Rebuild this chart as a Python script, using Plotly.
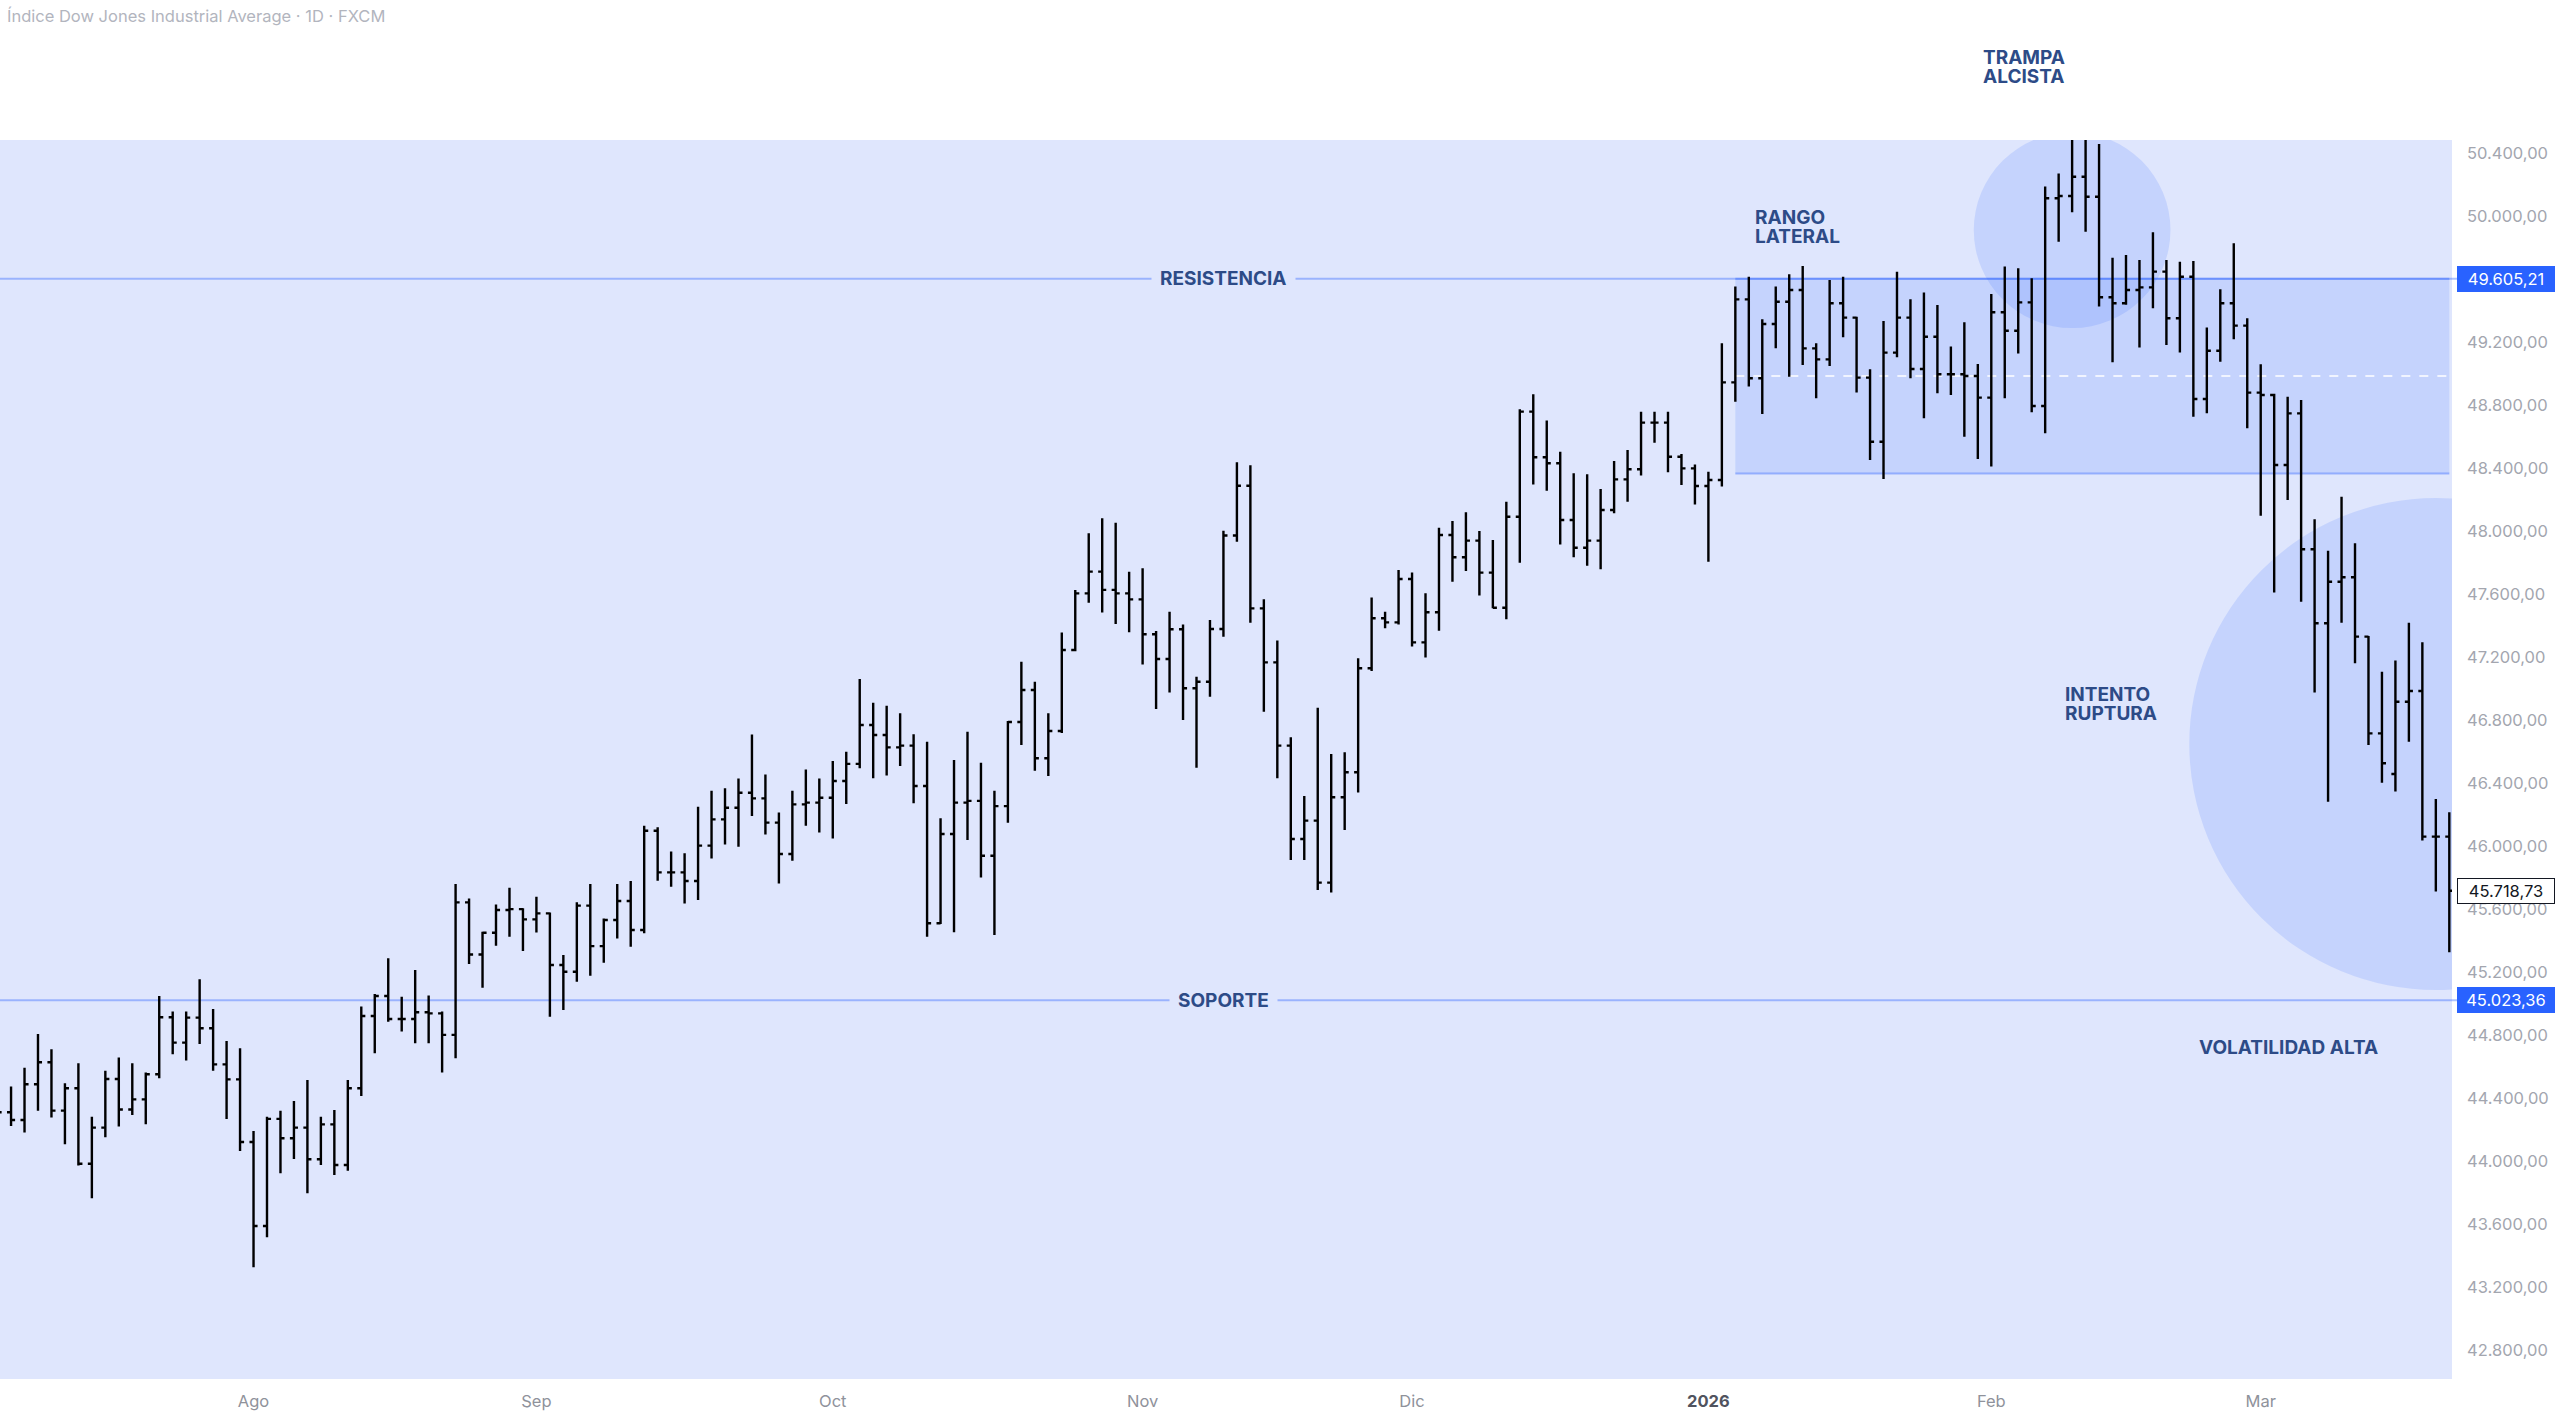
import pandas as pd
import plotly.graph_objects as go

# Dow Jones (FXCM) daily bars, 2025-07-07 .. 2026-03-20
holidays = ["2025-12-25", "2026-01-01"]
dates = [d.strftime("%Y-%m-%d") for d in pd.bdate_range("2025-07-07", "2026-03-20")
         if d.strftime("%Y-%m-%d") not in holidays]

open_ = [
    # jul
    44420, 44312, 44263, 44490, 44629, 44322, 44464, 43985, 44214, 44523,
    44329, 44394, 44553, 44915, 44754, 44913, 44845, 44616, 44521,
    # ago
    44123, 43590, 44270, 44147, 44214, 44013, 44235, 43977, 44464, 44923,
    45050, 44904, 44904, 44947, 44940, 44803, 45645, 45314, 45452, 45596, 45602,
    # sep
    45537, 45575, 45247, 45204, 45624, 45367, 45533, 45653, 45469, 46100,
    45835, 45835, 45780, 46005, 46172, 46246, 46341, 46305, 46151, 45952,
    46267, 46278,
    # oct
    46309, 46415, 46524, 46771, 46708, 46629, 46640, 46384, 45512, 46079,
    46278, 46289, 45941, 46256, 46790, 46993, 46560, 46733, 47247, 47607,
    47745, 47629, 47607,
    # nov
    47569, 47347, 47190, 47379, 47004, 47046, 47381, 47974, 48290, 47512,
    47169, 46640, 46047, 46164, 45770, 46312, 46471, 47131, 47449, 47423,
    # dic
    47698, 47296, 47487, 47978, 47836, 47942, 47739, 47516, 48094, 48761,
    48471, 48433, 48073, 47897, 47942, 48136, 48331, 48395, 48691, 48691,
    48475, 48401,
    # ene
    48289, 48327, 48947, 49474, 48973, 49318, 49459, 49533, 49163, 49093,
    49449, 49358, 48977, 48570, 49136, 49358, 49032, 49237, 48998, 48998,
    48987,
    # feb
    48850, 49392, 49275, 49455, 48797, 50116, 50130, 50253, 50126, 49487,
    49449, 49533, 49550, 49650, 49354, 49618, 48841, 49148, 49449, 49307,
    # mar
    48882, 48867, 48422, 48750, 47887, 47417, 47681, 47709, 47332, 46718,
    46460, 46919, 46987, 46062, 46062,
]
high = [
    44560, 44475, 44595, 44809, 44712, 44496, 44623, 44284, 44576, 44659,
    44623, 44564, 45050, 44951, 44951, 45156, 44968, 44765, 44718,
    44193, 44284, 44322, 44384, 44517, 44284, 44326, 44517, 44983, 45063,
    45290, 45046, 45215, 45053, 44951, 45761, 45670, 45458, 45632, 45738, 45607,
    45681, 45580, 45310, 45645, 45761, 45543, 45761, 45780, 46131, 46121,
    45967, 45956, 46252, 46354, 46369, 46432, 46711, 46457, 46216, 46354,
    46489, 46432,
    46542, 46602, 47063, 46913, 46894, 46845, 46712, 46665, 46179, 46549,
    46729, 46532, 46354, 46797, 47173, 47046, 46845, 47358, 47628, 47988,
    48084, 48056, 47745,
    47766, 47368, 47491, 47410, 47078, 47438, 48005, 48440, 48420, 47569,
    47307, 46693, 46320, 46881, 46587, 46598, 47195, 47580, 47491, 47755,
    47739, 47607, 48024, 48067, 48122, 48003, 47946, 48189, 48776, 48871,
    48704, 48507, 48369, 48363, 48270, 48448, 48518, 48761, 48761, 48761,
    48492, 48426,
    48380, 49195, 49555, 49618, 49347, 49555, 49633, 49686, 49195, 49597,
    49618, 49364, 49030, 49337, 49650, 49474, 49517, 49438, 49174, 49328,
    49064,
    49508, 49682, 49671, 49608, 50190, 50274, 50539, 50518, 50461, 49739,
    49756, 49724, 49900, 49724, 49713, 49718, 49296, 49538, 49830, 49354,
    49062, 48875, 48856, 48835, 48077, 47878, 48221, 47925, 47336, 47110,
    47180, 47421, 47296, 46301, 46217,
]
low = [
    44260, 44225, 44183, 44322, 44278, 44108, 43973, 43766, 44153, 44221,
    44295, 44235, 44528, 44680, 44640, 44746, 44576, 44269, 44066,
    43327, 43518, 43924, 44015, 43797, 43977, 43914, 43941, 44415, 44686,
    44887, 44824, 44750, 44750, 44564, 44655, 45253, 45103, 45370, 45427, 45336,
    45454, 44919, 44961, 45141, 45179, 45262, 45416, 45363, 45448, 45782,
    45744, 45638, 45660, 45924, 46013, 45998, 46193, 46076, 45765, 45909,
    46131, 46089,
    46051, 46270, 46496, 46433, 46450, 46511, 46274, 45427, 45508, 45455,
    46041, 45802, 45438, 46151, 46644, 46481, 46447, 46720, 47240, 47548,
    47485, 47413, 47360,
    47156, 46873, 46977, 46803, 46500, 46951, 47332, 47935, 47421, 46856,
    46433, 45914, 45914, 45723, 45707, 46104, 46342, 47114, 47385, 47410,
    47269, 47199, 47370, 47681, 47749, 47593, 47512, 47442, 47802, 48299,
    48259, 47918, 47836, 47783, 47760, 48115, 48189, 48355, 48564, 48376,
    48295, 48172,
    47808, 48285, 48824, 48920, 48746, 49163, 48983, 49057, 48846, 49051,
    49233, 48882, 48454, 48333, 49106, 48973, 48719, 48877, 48867, 48602,
    48460,
    48412, 48846, 49131, 48757, 48623, 49840, 50027, 49904, 49428, 49074,
    49440, 49169, 49417, 49184, 49136, 48729, 48750, 49078, 49220, 48655,
    48100, 47612, 48200, 47554, 46977, 46284, 47421, 47163, 46644, 46405,
    46348, 46665, 46037, 45713, 45328,
]
close = [
    44312, 44263, 44490, 44629, 44322, 44464, 43985, 44214, 44523, 44329,
    44394, 44553, 44915, 44754, 44913, 44845, 44616, 44521, 44123,
    43590, 44270, 44147, 44214, 44013, 44235, 43977, 44464, 44923, 45050,
    44904, 44904, 44947, 44940, 44803, 45645, 45314, 45452, 45596, 45602, 45537,
    45575, 45247, 45204, 45624, 45367, 45533, 45653, 45469, 46100, 45835,
    45835, 45780, 46005, 46172, 46246, 46341, 46305, 46151, 45952, 46267,
    46278, 46309,
    46415, 46524, 46771, 46708, 46629, 46640, 46384, 45512, 46079, 46278,
    46289, 45941, 46256, 46790, 46993, 46560, 46733, 47247, 47607, 47745,
    47629, 47607, 47569,
    47347, 47190, 47379, 47004, 47046, 47381, 47974, 48290, 47512, 47169,
    46640, 46047, 46164, 45770, 46312, 46471, 47131, 47449, 47423, 47698,
    47296, 47487, 47978, 47836, 47942, 47739, 47516, 48094, 48761, 48471,
    48433, 48073, 47897, 47942, 48136, 48331, 48395, 48691, 48691, 48475,
    48401, 48289,
    48327, 48947, 49474, 48973, 49318, 49459, 49533, 49163, 49093, 49449,
    49358, 48977, 48570, 49136, 49358, 49032, 49237, 48998, 48998, 48987,
    48850,
    49392, 49275, 49455, 48797, 50116, 50130, 50253, 50126, 49487, 49449,
    49533, 49550, 49650, 49354, 49618, 48841, 49148, 49449, 49307, 48882,
    48867, 48422, 48750, 47887, 47417, 47681, 47709, 47332, 46718, 46528,
    46919, 46987, 46062, 46062, 45718.73,
]

month_labels = ["Ago", "Sep", "Oct", "Nov", "Dic",
                "<span style='color:#50535e'><b>2026</b></span>", "Feb", "Mar"]
y_ticks = [v for v in range(42800, 50401, 400) if v != 49600]
y_range = [42618, 50486]

resistencia = 49605.21
soporte = 45023.36
rango_bajo = 48368

BAND = "#dfe6fd"
BLUE = "#2962ff"
LINE = "rgba(41,98,255,0.38)"
FILL = "rgba(41,98,255,0.14)"
TXT = "#2d4b87"
FONT = "Inter, Roboto, sans-serif"

assert len(dates) == len(open_) == len(high) == len(low) == len(close)

# first bar of each month, from august on
month_starts = []
for d in dates:
    if d[:7] not in [m[:7] for m in month_starts] and d >= "2025-08":
        month_starts.append(d)

n = len(dates)
i_rango = dates.index("2026-01-06")
i_trampa = dates.index("2026-02-10")
i_ruptura = dates.index("2026-03-19")

fig = go.Figure()
fig.add_trace(go.Ohlc(
    x=dates, open=open_, high=high, low=low, close=close,
    increasing_line_color="black", decreasing_line_color="black",
    line=dict(width=2.4), tickwidth=0.3, hoverinfo="skip", showlegend=False,
))

shapes = [
    # rango lateral
    dict(type="rect", x0=i_rango, x1=n - 1, y0=rango_bajo, y1=resistencia,
         fillcolor=FILL, line=dict(width=0), layer="below"),
    dict(type="line", x0=i_rango, x1=n - 1, y0=rango_bajo, y1=rango_bajo,
         line=dict(color=LINE, width=2), layer="below"),
    dict(type="line", x0=i_rango, x1=n - 1, y0=resistencia, y1=resistencia,
         line=dict(color=LINE, width=2), layer="below"),
    dict(type="line", x0=i_rango, x1=n - 1,
         y0=(rango_bajo + resistencia) / 2, y1=(rango_bajo + resistencia) / 2,
         line=dict(color="white", width=1.5, dash="dash"), layer="below"),
    # trampa alcista
    dict(type="circle", x0=i_trampa - 7.3, x1=i_trampa + 7.3, y0=49292, y1=50536,
         fillcolor=FILL, line=dict(width=0), layer="below"),
    # intento ruptura
    dict(type="circle", x0=i_ruptura - 18.3, x1=i_ruptura + 18.3, y0=45088, y1=48212,
         fillcolor=FILL, line=dict(width=0), layer="below"),
    # resistencia / soporte
    dict(type="line", xref="paper", x0=0, x1=1.004, y0=resistencia, y1=resistencia,
         line=dict(color=LINE, width=2), layer="below"),
    dict(type="line", xref="paper", x0=0, x1=1.004, y0=soporte, y1=soporte,
         line=dict(color=LINE, width=2), layer="below"),
]

lbl = dict(showarrow=False, font=dict(family=FONT, size=19, color=TXT))
annotations = [
    dict(x=91, y=resistencia, text="<b>RESISTENCIA</b>", bgcolor=BAND, borderpad=8, **lbl),
    dict(x=91, y=soporte, text="<b>SOPORTE</b>", bgcolor=BAND, borderpad=8, **lbl),
    dict(x=163.3, y=44726, text="<b>VOLATILIDAD ALTA</b>", xanchor="left", **lbl),
]

# two-line labels: one annotation per line, ~20 px apart
gap = 62
for x, y, lines in [(130.3, 49933, ["RANGO", "LATERAL"]),
                    (153.3, 46904, ["INTENTO", "RUPTURA"])]:
    annotations.append(dict(x=x, y=y + gap, text=f"<b>{lines[0]}</b>", xanchor="left", **lbl))
    annotations.append(dict(x=x, y=y - gap, text=f"<b>{lines[1]}</b>", xanchor="left", **lbl))


# TRAMPA ALCISTA sits above the plot area, so place it in paper units
def to_paper(v):
    return (v - y_range[0]) / (y_range[1] - y_range[0])


for v, word in [(51035 + gap, "TRAMPA"), (51035 - gap, "ALCISTA")]:
    annotations.append(dict(x=147.2, yref="paper", y=to_paper(v), text=f"<b>{word}</b>",
                            xanchor="left", **lbl))


def fmt(v):
    return f"{v:,.2f}".replace(",", "X").replace(".", ",").replace("X", ".")


for v, bg, fg, bc in [(resistencia, BLUE, "white", BLUE),
                      (soporte, BLUE, "white", BLUE),
                      (close[-1], "white", "#131722", "#131722")]:
    annotations.append(dict(
        xref="paper", x=1, xanchor="left", xshift=5, y=v, yanchor="middle",
        text=fmt(v), showarrow=False, bgcolor=bg, bordercolor=bc, borderwidth=1,
        borderpad=2, width=92, font=dict(family=FONT, size=16.5, color=fg),
    ))

fig.update_layout(
    width=2560, height=1415,
    margin=dict(l=0, r=108, t=140, b=36),
    paper_bgcolor="white", plot_bgcolor=BAND,
    separators=",.",
    font=dict(family=FONT, size=16, color="#9598a1"),
    title=dict(text="Índice Dow Jones Industrial Average · 1D · FXCM",
               xref="container", yref="container", x=7 / 2560, xanchor="left",
               y=1 - 16 / 1415, yanchor="middle",
               font=dict(family=FONT, size=16.5, color="#b2b5be")),
    xaxis=dict(type="category", range=[0.18, n - 1 + 0.2], showgrid=False,
               zeroline=False, showline=False, ticks="",
               tickmode="array", tickvals=month_starts, ticktext=month_labels,
               tickangle=0, ticklabelstandoff=10,
               tickfont=dict(size=16.5, color="#8f929b"),
               rangeslider=dict(visible=False), fixedrange=True),
    yaxis=dict(side="right", range=y_range, showgrid=False,
               zeroline=False, showline=False, ticks="",
               tickmode="array", tickvals=y_ticks, tickformat=",.2f",
               ticklabelstandoff=14,
               tickfont=dict(size=16.5, color="#a3a6af"), fixedrange=True),
    shapes=shapes,
    annotations=annotations,
    showlegend=False,
)

fig.write_html("out.html", config={"displayModeBar": False},
               post_script="document.body.style.margin='0';")
